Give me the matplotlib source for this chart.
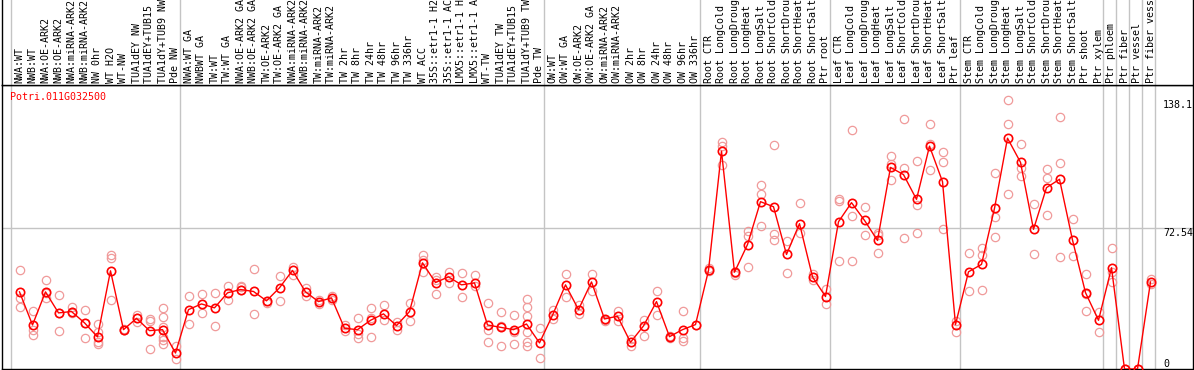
import matplotlib
matplotlib.use("Agg")
import matplotlib.pyplot as plt

gene = "Potri.011G032500"

labels = [
    "NWA:WT", "NWB:WT", "NWA:OE-ARK2", "NWB:OE-ARK2", "NWA:miRNA-ARK2", "NWB:miRNA-ARK2",
    "NW 0hr", "WT H2O", "WT-NW", "TUA1dEY NW", "TUA1dEY+TUB15 NW", "TUA1dY+TUB9 NW", "Pde NW",
    "NWA:WT GA", "NWBWT GA", "TW:WT", "TW:WT GA", "NWA:OE-ARK2 GA", "NWB:OE-ARK2 GA",
    "TW:OE-ARK2", "TW:OE-ARK2 GA", "NWA:miRNA-ARK2 GA", "NWB:miRNA-ARK2 GA", "TW:miRNA-ARK2",
    "TW:miRNA-ARK2 GA", "TW 2hr", "TW 8hr", "TW 24hr", "TW 48hr", "TW 96hr", "TW 336hr",
    "WT ACC", "35S::etr1-1 H2O", "35S::etr1-1 ACC", "LMX5::etr1-1 H2O", "LMX5::etr1-1 ACC",
    "WT-TW", "TUA1dEY TW", "TUA1dEY+TUB15 TW", "TUA1dY+TUB9 TW", "Pde TW",
    "OW:WT", "OW:WT GA", "OW:OE-ARK2", "OW:OE-ARK2 GA", "OW:miRNA-ARK2", "OW:miRNA-ARK2 GA",
    "OW 2hr", "OW 8hr", "OW 24hr", "OW 48hr", "OW 96hr", "OW 336hr",
    "Root CTR", "Root LongCold", "Root LongDrought", "Root LongHeat", "Root LongSalt",
    "Root ShortCold", "Root ShortDrought", "Root ShortHeat", "Root ShortSalt", "Ptr root",
    "Leaf CTR", "Leaf LongCold", "Leaf LongDrought", "Leaf LongHeat", "Leaf LongSalt",
    "Leaf ShortCold", "Leaf ShortDrought", "Leaf ShortHeat", "Leaf ShortSalt", "Ptr leaf",
    "Stem CTR", "Stem LongCold", "Stem LongDrought", "Stem LongHeat", "Stem LongSalt",
    "Stem ShortCold", "Stem ShortDrought", "Stem ShortHeat", "Stem ShortSalt", "Ptr shoot",
    "Ptr xylem", "Ptr phloem", "Ptr fiber", "Ptr vessel", "Ptr fiber vessel",
]

means = [
    39.6, 22.6, 39.6, 28.8, 29.5, 23.7, 16.5, 50.4, 20.2, 26.0, 19.7, 20.2, 8.2,
    30.5, 33.4, 31.4, 39.1, 40.8, 39.8, 35.0, 41.7, 50.6, 39.6, 34.6, 36.5, 20.9,
    20.2, 25.0, 28.3, 22.3, 29.5, 54.5, 44.4, 47.3, 43.2, 44.2, 22.6, 21.4, 20.2,
    23.1, 13.4,
    27.6, 43.2, 30.5, 44.7, 25.7, 27.1, 13.7, 22.1, 34.6, 16.6, 20.2, 22.8,
    50.6, 111.8, 49.7, 63.9, 85.9, 83.3, 58.8, 74.6, 47.3, 37.2,
    75.6, 85.4, 76.3, 66.0, 103.5, 99.8, 87.1, 114.4, 96.2, 22.8,
    49.9, 53.7, 82.5, 118.5, 106.1, 71.7, 93.1, 97.4, 66.2, 39.2, 25.0,
    52.0, 0.0, 0.0, 44.7,
]

replicates = [
    [50.6, 36.5, 31.9], [30.0, 20.2, 17.3], [45.8, 36.2, 38.9], [38.2, 19.5, 28.8],
    [32.0, 28.5, 29.5], [30.5, 15.9, 23.7], [23.3, 13.0, 19.0, 14.0], [58.6, 57.1, 35.5],
    [20.2, 19.8, 20.5], [27.5, 24.0, 26.0], [25.9, 24.4, 10.3],
    [31.4, 26.7, 21.5, 16.5, 14.8, 12.9], [11.6, 5.1],
    [37.3, 23.1], [38.6, 28.8], [39.1, 22.1], [42.8, 35.3], [42.8, 41.9, 40.8],
    [51.4, 28.4], [34.0, 35.0], [48.0, 35.0], [52.3, 48.5], [41.8, 37.3], [33.4, 35.6],
    [37.3, 35.3], [22.8, 19.7], [26.2, 15.9, 18.0], [31.4, 26.0, 16.5], [32.6, 25.4],
    [24.2, 20.2], [34.0, 24.8], [58.3, 56.2, 49.9], [47.3, 38.6, 45.8], [49.7, 44.2],
    [49.4, 37.0], [48.3, 42.5], [34.1, 20.2, 13.9], [29.3, 22.2, 11.8], [27.8, 19.0, 12.9],
    [36.0, 31.9, 27.1, 18.8, 13.9, 11.6], [21.1, 5.7],
    [30.5, 25.7], [48.9, 37.0], [32.7, 28.3], [48.9, 40.3], [25.4, 24.7], [30.0, 24.5],
    [15.6, 12.0], [25.0, 16.8], [40.3, 27.8], [17.1, 16.0], [30.0, 15.9, 14.2], [22.8],
    [52.0, 50.3], [116.3, 114.6, 104.6], [49.2, 48.3], [70.8, 68.2, 52.5],
    [94.3, 90.0, 73.6], [114.9, 69.4, 66.0], [65.6, 49.5], [85.0, 70.0], [48.8, 45.7],
    [41.1, 33.4],
    [87.1, 86.1, 55.2], [122.9, 78.3, 55.5], [83.3, 68.6], [70.0, 68.6, 59.3],
    [109.4, 105.0, 97.0], [128.6, 103.4, 67.4], [106.6, 84.0, 70.0], [126.0, 115.5, 102.4],
    [111.6, 106.5, 71.7], [24.8, 19.0],
    [59.7, 39.8], [61.9, 58.3, 40.8], [100.5, 78.2, 68.0], [138.1, 125.7, 90.0],
    [115.7, 103.0, 99.1], [84.5, 58.8], [102.9, 98.3, 78.9], [129.3, 105.6, 57.6],
    [76.8, 57.9], [49.0, 38.5, 30.0], [29.1, 19.2],
    [61.9, 49.7, 44.5], [0.0, 0.0], [0.0, 0.0], [46.0, 43.5],
]

group_starts = [0, 13, 41, 53, 63, 73, 84, 85, 86, 87, 88]
ytick_values = [0, 72.54, 138.1]
ytick_labels = ["0", "72.54", "138.1"]

W, H = 1194, 370
fig = plt.figure(figsize=(W / 100, H / 100), dpi=100)
left_px, right_px, top_px, bot_px = 2, 1193, 85, 369
ax = fig.add_axes([left_px / W, (H - bot_px) / H, (right_px - left_px) / W, (bot_px - top_px) / H])
lax = fig.add_axes([left_px / W, (H - top_px) / H, (right_px - left_px) / W, top_px / H])

step = 13.0
x0 = (left_px - 19.5) / step
x1 = (right_px - 19.5) / step
ax.set_xlim(x0, x1)
lax.set_xlim(x0, x1)
ax.set_ylim(0, 145.8)
lax.set_ylim(0, 1)

mono = "DejaVu Sans Mono"
grid_c = "#c4c4c4"
for b in group_starts:
    ax.axvline(b - 0.65, color=grid_c, lw=1.0, zorder=0)
    lax.axvline(b - 0.65, color=grid_c, lw=1.0, zorder=0)
ax.axhline(ytick_values[1], color=grid_c, lw=1.0, zorder=0)

xs = list(range(len(means)))
rx, ry = [], []
for i, reps in enumerate(replicates):
    for v in reps:
        rx.append(i)
        ry.append(v)
ax.plot(rx, ry, linestyle="none", marker="o", ms=6.0, mfc="none", mec="#f09a9a", mew=0.9, zorder=2)
ax.plot(xs, means, color="#ff0000", lw=1.0, zorder=3)
ax.plot(xs, means, linestyle="none", marker="o", ms=6.0, mfc="none", mec="#ff0000", mew=1.2, zorder=4)

for i, lab in enumerate(labels):
    lax.text(i, 2.0 / top_px, lab, rotation=90, ha="center", va="bottom",
             family=mono, fontsize=7.2, color="black")

ax.text(0.0067, 0.958, gene, transform=ax.transAxes, ha="left", va="center",
        family=mono, fontsize=7.2, color="#ff0000")

xt = (1163 - left_px) / (right_px - left_px)
for v, t in zip(ytick_values, ytick_labels):
    va = "bottom" if v == 0 else "top"
    ax.text(xt, v, t, transform=ax.get_yaxis_transform(), ha="left", va=va,
            family=mono, fontsize=7.2, color="black")

for a in (ax, lax):
    a.set_xticks([])
    a.set_yticks([])
    for s in a.spines.values():
        s.set_color("black")
        s.set_linewidth(1.0)
lax.spines["top"].set_visible(False)

fig.savefig("out.png", dpi=100)
